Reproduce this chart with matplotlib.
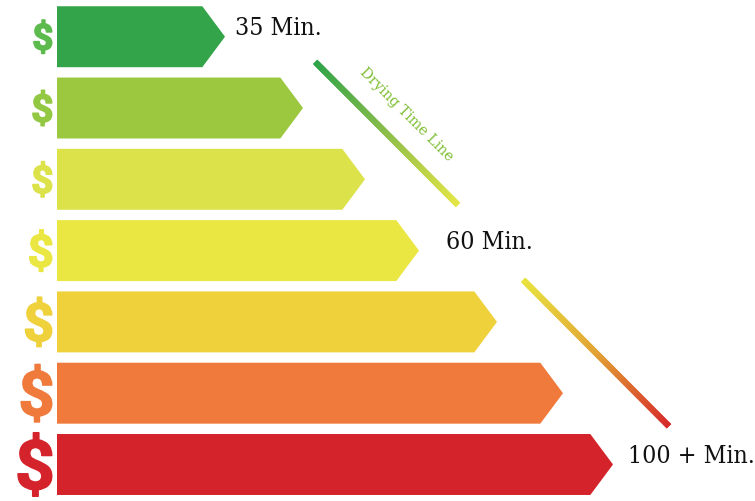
import numpy as np
import matplotlib
matplotlib.use("Agg")
import matplotlib.pyplot as plt
from matplotlib.patches import Polygon, PathPatch
from matplotlib.collections import LineCollection
from matplotlib.colors import LinearSegmentedColormap
from matplotlib.textpath import TextPath
from matplotlib.font_manager import FontProperties
from matplotlib.transforms import Affine2D, IdentityTransform

# ---------------- data ----------------
tiers = [1, 2, 3, 4, 5, 6, 7]                      # cost tiers, top to bottom
bar_values = [168, 246, 308, 362, 440, 506, 556]   # arrow lengths (relative)
cost_symbol = "$"
time_labels = ["35 Min.", "60 Min.", "100 + Min."]
time_label_rows = [0, 3, 6]
line_title = "Drying Time Line"

# ---------------- style ----------------
bar_colors = ["#34A44A", "#9BC83E", "#DCE24A", "#EAE742", "#EFD13C", "#EF7A3B", "#D4232B"]
sign_colors = ["#5CBB4C", "#93C843", "#DCE24A", "#EAE742", "#EFD13C", "#EF7A3B", "#D4232B"]
sign_heights_px = [33.5, 35.5, 35.5, 41.5, 49.5, 57.5, 63.5]
sign_aspect = 0.53
bar_h = 0.855
tip = 22.7
label_dx = [10, 27, 15]

fig = plt.figure(figsize=(7.55, 5.02), dpi=100)
ax = fig.add_axes([0, 0, 1, 1])
ax.set_xlim(-57, 698)
ax.set_ylim(6.512, -0.529)
ax.axis("off")

for i, (v, c) in enumerate(zip(bar_values, bar_colors)):
    pts = [(0, i - bar_h / 2), (v - tip, i - bar_h / 2), (v, i),
           (v - tip, i + bar_h / 2), (0, i + bar_h / 2)]
    ax.add_patch(Polygon(pts, closed=True, facecolor=c, edgecolor="none"))

# dollar signs drawn as glyph outlines, scaled to a heavier, wider shape
fp = FontProperties(family="Roboto", weight="bold")
base = TextPath((0, 0), cost_symbol, size=100, prop=fp)
bb = base.get_extents()
for i, (c, h) in enumerate(zip(sign_colors, sign_heights_px)):
    px, py = ax.transData.transform((-5.3, i))
    w = h * sign_aspect
    tr = (Affine2D()
          .translate(-bb.x1, -(bb.y0 + bb.y1) / 2)
          .scale(w / bb.width, h / bb.height)
          .translate(px, py))
    ax.add_artist(PathPatch(tr.transform_path(base), facecolor=c,
                            edgecolor=c, linewidth=1.1, joinstyle="round",
                            transform=IdentityTransform()))

for lab, row, dx in zip(time_labels, time_label_rows, label_dx):
    ax.text(bar_values[row] + dx, row - 0.04, lab, family="DejaVu Serif",
            fontsize=17.8, stretch="condensed", color="#111111",
            ha="left", va="baseline")


def gradient_line(p0, p1, colors, lw=4.5, n=120):
    cmap = LinearSegmentedColormap.from_list("g", colors)
    t = np.linspace(0, 1, n + 1)
    xs = p0[0] + (p1[0] - p0[0]) * t
    ys = p0[1] + (p1[1] - p0[1]) * t
    segs = []
    for k in range(n):
        k2 = min(k + 2, n)
        segs.append([(xs[k], ys[k]), (xs[k2], ys[k2])])
    cols = cmap((t[:-1] + 0.5 / n))
    lc = LineCollection(segs, colors=cols, linewidths=lw, capstyle="butt")
    ax.add_collection(lc)


gradient_line((258, 0.351), (401, 2.36), ["#2EA349", "#8DBE4A", "#E6E646"])
gradient_line((466, 3.408), (612, 5.464), ["#E8E43F", "#E2A335", "#D62A2B"])

ax.text(349, 1.08, line_title, family="DejaVu Serif", fontsize=10.3,
        color="#7DBE31", rotation=-45, rotation_mode="anchor",
        ha="center", va="center")

fig.savefig("out.png", dpi=100)
